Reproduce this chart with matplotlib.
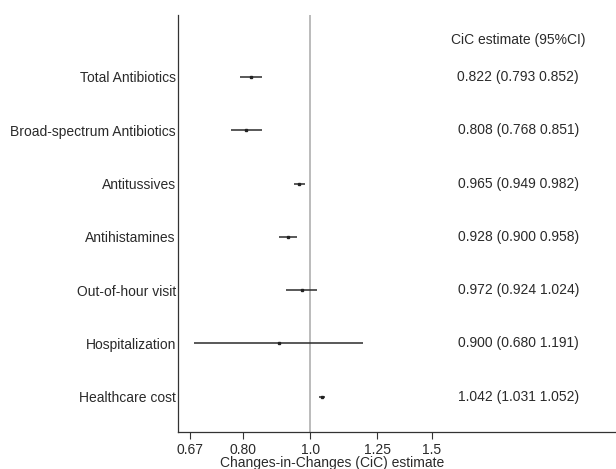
import matplotlib
matplotlib.use("Agg")
import matplotlib.pyplot as plt
import numpy as np

plt.rcParams['font.family'] = ['Liberation Sans', 'DejaVu Sans']

labels = ["Total Antibiotics", "Broad-spectrum Antibiotics", "Antitussives",
          "Antihistamines", "Out-of-hour visit", "Hospitalization", "Healthcare cost"]
est = [0.822, 0.808, 0.965, 0.928, 0.972, 0.900, 1.042]
lo = [0.793, 0.768, 0.949, 0.900, 0.924, 0.680, 1.031]
hi = [0.852, 0.851, 0.982, 0.958, 1.024, 1.191, 1.052]
xticks = [0.67, 0.80, 1.0, 1.25, 1.5]
xticklabels = ["0.67", "0.80", "1.0", "1.25", "1.5"]

FS = 10
TC = '#2a2a2a'

fig = plt.figure(figsize=(6.16, 4.69), dpi=100)
ax = fig.add_axes([178/616, 1 - 432/469, (615 - 178)/616, (432 - 15)/469])
ax.set_xscale('log')

y = np.arange(len(labels))
ax.axvline(1.0, color='#a8a8a8', lw=1.1, zorder=1)
ax.hlines(y, lo, hi, color='#2b2b2b', lw=1.1, zorder=2)
ax.plot(est, y, ls='none', marker='s', ms=2.0, color='#222222', zorder=3)

for yi, e, l, h in zip(y, est, lo, hi):
    ax.text(2.0, yi, f"{e:.3f} ({l:.3f} {h:.3f})", ha='center', va='center', fontsize=FS, color=TC)
ax.text(2.0, -0.7, "CiC estimate (95%CI)", ha='center', va='center', fontsize=FS, color=TC)

ax.set_xlim(0.644, 2.76)
ax.set_ylim(6.66, -1.16)
ax.set_yticks(y)
ax.set_yticklabels(labels, fontsize=FS, color=TC)
ax.tick_params(axis='y', length=0, pad=1.5)
ax.set_xticks(xticks)
ax.set_xticklabels(xticklabels, fontsize=FS, color=TC)
ax.xaxis.set_minor_locator(matplotlib.ticker.NullLocator())
ax.tick_params(axis='x', length=5, width=0.8, color='#333333', pad=3)
ax.set_xlabel("Changes-in-Changes (CiC) estimate", fontsize=FS, color=TC)
ax.xaxis.set_label_coords((332 - 178) / 437, -0.058)
for s in ['top', 'right']:
    ax.spines[s].set_visible(False)
for s in ['left', 'bottom']:
    ax.spines[s].set_color('#333333')
    ax.spines[s].set_linewidth(0.9)

fig.savefig("out.png", dpi=100)
